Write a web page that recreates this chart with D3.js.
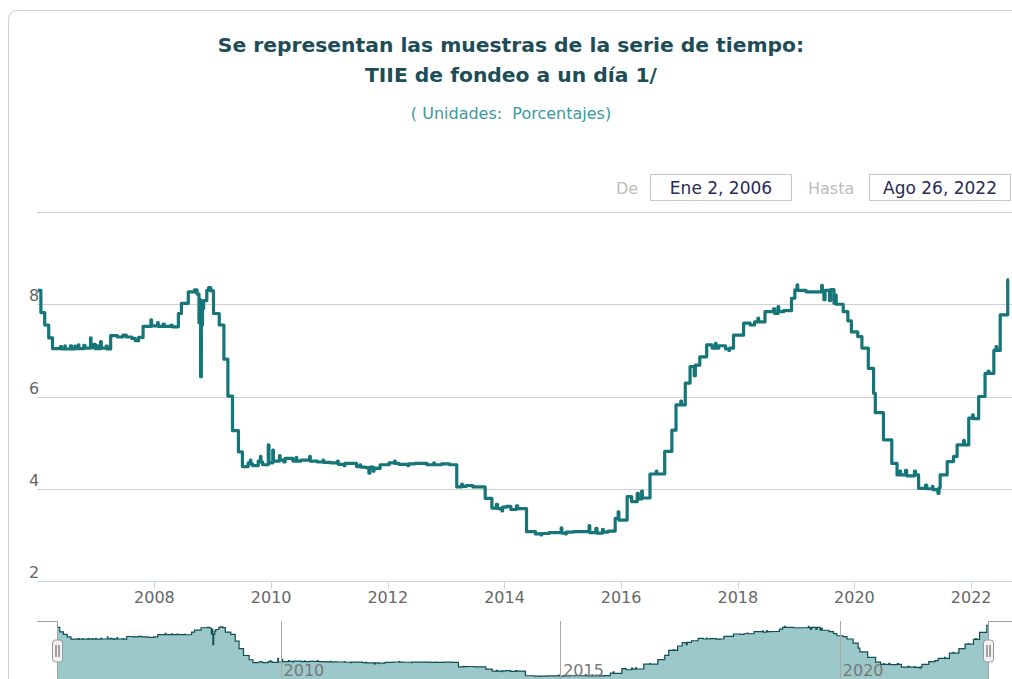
<!DOCTYPE html>
<html>
<head>
<meta charset="utf-8">
<script src="https://cdn.jsdelivr.net/npm/d3@7"></script>
<style>
  body { margin: 0; background: #fff; }
  text { font-family: "DejaVu Sans", Verdana, sans-serif; }
</style>
</head>
<body>
<svg id="chart" width="1012" height="679"></svg>
<script>
// TIIE de fondeo a un día, step points
const fechas = [
  "2006-01-02","2006-01-20","2006-02-13","2006-03-10","2006-04-03","2006-05-22","2006-05-29","2006-07-24",
  "2006-07-31","2006-09-11","2006-09-15","2006-10-16","2006-10-23","2006-11-27","2006-11-30","2006-12-18",
  "2006-12-27","2007-01-29","2007-02-02","2007-03-05","2007-03-12","2007-04-02","2007-05-14","2007-06-18",
  "2007-07-09","2007-08-13","2007-09-03","2007-09-24","2007-10-22","2007-12-10","2007-12-14","2008-01-21",
  "2008-01-25","2008-02-25","2008-03-03","2008-04-14","2008-04-21","2008-05-30","2008-06-18","2008-07-31",
  "2008-09-08","2008-09-24","2008-10-06","2008-10-09","2008-10-16","2008-10-21","2008-10-28","2008-11-04",
  "2008-11-24","2008-12-05","2008-12-19","2009-01-05","2009-02-10","2009-03-11","2009-04-05","2009-05-04",
  "2009-06-10","2009-07-05","2009-08-10","2009-09-07","2009-10-12","2009-11-09","2009-12-14","2009-12-18",
  "2010-01-11","2010-01-15","2010-02-22","2010-02-26","2010-04-12","2010-05-17","2010-07-05","2010-08-30",
  "2010-09-03","2010-10-18","2011-01-10","2011-02-21","2011-02-25","2011-05-02","2011-06-20","2011-08-15",
  "2011-09-05","2011-09-12","2011-10-24","2011-11-14","2012-01-09","2012-03-12","2012-06-18","2012-09-03",
  "2012-12-03","2013-01-21","2013-03-08","2013-05-06","2013-06-17","2013-09-02","2013-10-14","2013-11-11",
  "2013-11-18","2014-01-13","2014-02-10","2014-03-17","2014-03-24","2014-05-19","2014-07-14","2014-10-06",
  "2014-12-22","2014-12-26","2015-03-09","2015-06-15","2015-06-19","2015-07-27","2015-08-03","2015-10-12",
  "2015-11-25","2015-12-14","2015-12-18","2016-02-08","2016-03-07","2016-04-11","2016-04-18","2016-06-30",
  "2016-09-30","2016-11-14","2016-12-10","2017-02-06","2017-03-08","2017-04-03","2017-04-10","2017-05-08",
  "2017-06-20","2017-07-24","2017-09-04","2017-10-16","2017-12-05","2018-02-06","2018-03-19","2018-04-16",
  "2018-06-20","2018-08-13","2018-08-20","2018-10-15","2018-12-03","2018-12-24","2019-01-07","2019-01-11",
  "2019-03-04","2019-06-10","2019-06-14","2019-06-24","2019-07-01","2019-07-29","2019-08-05","2019-08-26",
  "2019-09-02","2019-09-09","2019-10-23","2019-11-21","2019-12-13","2020-01-22","2020-02-17","2020-03-28",
  "2020-04-30","2020-05-11","2020-07-01","2020-08-22","2020-09-24","2020-11-16","2020-11-23","2021-01-11",
  "2021-01-18","2021-02-06","2021-03-22","2021-03-29","2021-06-07","2021-06-14","2021-06-21","2021-08-04",
  "2021-09-13","2021-10-05","2021-12-17","2022-02-17","2022-03-29","2022-05-23","2022-07-02","2022-08-18",
  "2022-08-26"
]
const tasas = [
  8.30, 7.82, 7.55, 7.27, 7.04, 7.08, 7.03, 7.10,
  7.03, 7.12, 7.04, 7.11, 7.05, 7.27, 7.06, 7.13,
  7.04, 7.19, 7.05, 7.09, 7.03, 7.32, 7.29, 7.33,
  7.29, 7.26, 7.21, 7.28, 7.52, 7.66, 7.53, 7.60,
  7.52, 7.57, 7.52, 7.55, 7.51, 7.80, 8.02, 8.27,
  8.31, 8.22, 7.60, 8.10, 6.43, 7.55, 7.90, 8.08,
  8.30, 8.36, 8.29, 7.80, 7.55, 6.81, 6.01, 5.26,
  4.80, 4.48, 4.56, 4.50, 4.60, 4.52, 4.95, 4.56,
  4.84, 4.60, 4.72, 4.62, 4.66, 4.60, 4.62, 4.70,
  4.60, 4.58, 4.56, 4.60, 4.53, 4.55, 4.48, 4.46,
  4.34, 4.47, 4.44, 4.52, 4.56, 4.53, 4.55, 4.52,
  4.54, 4.52, 4.04, 4.07, 4.04, 3.79, 3.58, 3.66,
  3.57, 3.62, 3.55, 3.63, 3.57, 3.07, 3.02, 3.05,
  3.15, 3.04, 3.07, 3.20, 3.05, 3.14, 3.04, 3.08,
  3.36, 3.50, 3.32, 3.83, 3.72, 3.90, 3.78, 4.32,
  4.81, 5.27, 5.82, 6.29, 6.65, 6.45, 6.68, 6.86,
  7.12, 7.05, 7.10, 7.03, 7.33, 7.59, 7.55, 7.62,
  7.84, 7.90, 7.80, 7.86, 8.13, 8.31, 8.42, 8.30,
  8.27, 8.41, 8.29, 8.10, 8.30, 8.08, 8.32, 8.02,
  8.20, 8.00, 7.84, 7.64, 7.40, 7.30, 7.05, 6.61,
  6.07, 5.65, 5.06, 4.55, 4.30, 4.40, 4.28, 4.38,
  4.30, 4.01, 4.08, 4.00, 3.90, 4.02, 4.30, 4.59,
  4.70, 4.95, 5.53, 6.00, 6.50, 7.00, 7.77, 8.53,
  8.53
]
// short-lived spikes seen along the plateaus (spike, then back)
const picosFechas = [
  "2006-06-19","2006-06-22","2006-08-21","2006-08-24","2007-01-08","2007-01-11",
  "2009-08-24","2009-08-27","2009-10-26","2009-10-29","2010-03-22","2010-03-29",
  "2010-06-07","2010-06-10","2010-11-22","2010-11-26","2011-04-04","2011-04-08",
  "2011-07-11","2011-07-15","2011-10-03","2011-10-07","2012-02-13","2012-02-17",
  "2012-05-07","2012-05-11","2012-10-15","2012-10-19","2013-04-08","2013-04-12",
  "2013-12-16","2013-12-20","2014-08-18","2014-08-22","2015-01-19","2015-01-23",
  "2015-09-07","2015-09-11","2016-05-09","2016-05-13","2016-08-08","2016-08-12",
  "2017-01-09","2017-01-13","2017-08-14","2017-08-18","2017-11-06","2017-11-10",
  "2018-05-07","2018-05-11","2018-09-10","2018-09-14","2020-10-12","2020-10-16",
  "2021-05-03","2021-05-07","2021-11-15","2021-11-19","2022-01-10","2022-01-14",
  "2022-04-18","2022-04-22","2022-06-06","2022-06-10"
]
const picosTasas = [
  7.10, 7.03, 7.09, 7.04, 7.10, 7.04,
  4.62, 4.54, 4.70, 4.58, 4.58, 4.66,
  4.68, 4.60, 4.62, 4.57, 4.50, 4.55,
  4.52, 4.47, 4.38, 4.45, 4.60, 4.55,
  4.50, 4.54, 4.56, 4.52, 4.10, 4.05,
  3.52, 3.60, 3.00, 3.03, 3.02, 3.06,
  3.12, 3.06, 3.95, 3.80, 4.38, 4.32,
  5.90, 5.82, 7.15, 7.05, 7.00, 7.05,
  7.70, 7.62, 7.95, 7.84, 4.38, 4.30,
  4.05, 3.98, 5.05, 4.95, 5.60, 5.52,
  6.55, 6.50, 7.08, 7.00
]

const yTicks = [2, 4, 6, 8]
const yGrid = [4, 6, 8, 10]
const xTickYears = [2008, 2010, 2012, 2014, 2016, 2018, 2020, 2022]
const navTickYears = [2010, 2015, 2020]
const fechaDesde = "Ene 2, 2006"
const fechaHasta = "Ago 26, 2022"

const parse = d3.timeParse("%Y-%m-%d")
const data = fechas.map((f, i) => ({ date: parse(f), value: tasas[i] }))
  .concat(picosFechas.map((f, i) => ({ date: parse(f), value: picosTasas[i] })))
  .sort((a, b) => a.date - b.date)

const svg = d3.select("#chart")

// card border
svg.append("path")
  .attr("d", "M8.5,1000 L8.5,20 Q8.5,10.5 18,10.5 L1100,10.5")
  .attr("fill", "none")
  .attr("stroke", "#cfcfcf")

// titles
svg.append("text").attr("x", 511).attr("y", 52).attr("text-anchor", "middle")
  .attr("font-size", 20.3).attr("font-weight", "bold").attr("fill", "#1e4d56")
  .text("Se representan las muestras de la serie de tiempo:")
svg.append("text").attr("x", 511).attr("y", 82).attr("text-anchor", "middle")
  .attr("font-size", 20.3).attr("font-weight", "bold").attr("fill", "#1e4d56")
  .text("TIIE de fondeo a un día 1/")
svg.append("text").attr("x", 511).attr("y", 119).attr("text-anchor", "middle")
  .attr("font-size", 16).attr("fill", "#3a9a9c").style("white-space", "pre")
  .text("( Unidades:  Porcentajes)")

// range inputs
svg.append("text").attr("x", 616).attr("y", 194).attr("font-size", 16).attr("fill", "#bdbdbd").text("De")
svg.append("rect").attr("x", 650.5).attr("y", 174.5).attr("width", 141).attr("height", 26)
  .attr("fill", "#fff").attr("stroke", "#c8c8c8")
svg.append("text").attr("x", 721).attr("y", 194).attr("text-anchor", "middle")
  .attr("font-size", 17).attr("fill", "#2a2a55").text(fechaDesde)
svg.append("text").attr("x", 808).attr("y", 194).attr("font-size", 16).attr("fill", "#bdbdbd").text("Hasta")
svg.append("rect").attr("x", 869.5).attr("y", 174.5).attr("width", 141).attr("height", 26)
  .attr("fill", "#fff").attr("stroke", "#c8c8c8")
svg.append("text").attr("x", 940).attr("y", 194).attr("text-anchor", "middle")
  .attr("font-size", 17).attr("fill", "#2a2a55").text(fechaHasta)

// main plot
const x = d3.scaleTime()
  .domain([data[0].date, data[data.length - 1].date])
  .range([38, 1009])
const y = d3.scaleLinear().domain([2, 10]).range([581, 212])

const g = svg.append("g")

g.selectAll("line.grid").data(yGrid).enter().append("line")
  .attr("class", "grid")
  .attr("x1", 37).attr("x2", 1012)
  .attr("y1", d => Math.round(y(d)) + 0.5).attr("y2", d => Math.round(y(d)) + 0.5)
  .attr("stroke", "#d0d0d0")

g.selectAll("text.ylab").data(yTicks).enter().append("text")
  .attr("class", "ylab")
  .attr("x", 29).attr("y", d => y(d) - 3)
  .attr("font-size", 16).attr("fill", "#666")
  .text(d => d)

// x axis
const xAxisG = g.append("g").attr("transform", "translate(0,581)")
xAxisG.append("line").attr("x1", 37).attr("x2", 1012).attr("y1", 0.5).attr("y2", 0.5)
  .attr("stroke", "#ccd6eb")
const xTicks = xTickYears.map(yr => new Date(yr, 0, 1))
xAxisG.selectAll("line.tick").data(xTicks).enter().append("line")
  .attr("class", "tick")
  .attr("x1", d => Math.round(x(d)) + 0.5).attr("x2", d => Math.round(x(d)) + 0.5)
  .attr("y1", 0).attr("y2", 8)
  .attr("stroke", "#ccd6eb")
xAxisG.selectAll("text").data(xTicks).enter().append("text")
  .attr("x", d => x(d)).attr("y", 21.5)
  .attr("text-anchor", "middle")
  .attr("font-size", 16).attr("fill", "#666")
  .text(d3.timeFormat("%Y"))

const line = d3.line()
  .x(d => x(d.date))
  .y(d => y(d.value))
  .curve(d3.curveStepAfter)

g.append("path").datum(data)
  .attr("d", line)
  .attr("fill", "none")
  .attr("stroke", "#167579")
  .attr("stroke-width", 3.2)
  .attr("stroke-linejoin", "round")

// navigator
const nx = d3.scaleTime()
  .domain([data[0].date, data[data.length - 1].date])
  .range([57, 988])
const ny = d3.scaleLinear().domain([2.5, 9.0]).range([681, 621])

const nav = svg.append("g")
const area = d3.area()
  .x(d => nx(d.date))
  .y0(690)
  .y1(d => ny(d.value))
  .curve(d3.curveStepAfter)
nav.append("path").datum(data)
  .attr("d", area)
  .attr("fill", "#9cc8c9")
nav.append("path").datum(data)
  .attr("d", line.x(d => nx(d.date)).y(d => ny(d.value)))
  .attr("fill", "none")
  .attr("stroke", "#0e4e54")
  .attr("stroke-width", 1.2)

const navTicks = navTickYears.map(yr => new Date(yr, 0, 1))
nav.selectAll("line.ngrid").data(navTicks).enter().append("line")
  .attr("class", "ngrid")
  .attr("x1", d => Math.round(nx(d)) + 0.5).attr("x2", d => Math.round(nx(d)) + 0.5)
  .attr("y1", 621).attr("y2", 690)
  .attr("stroke", "#a8a8a8")
nav.selectAll("text.nlab").data(navTicks).enter().append("text")
  .attr("class", "nlab")
  .attr("x", d => nx(d) + 3).attr("y", 676)
  .attr("font-size", 16).attr("fill", "#777")
  .text(d3.timeFormat("%Y"))

// navigator outline
const x0 = nx.range()[0] + 0.5, x1 = nx.range()[1] + 0.5
nav.append("path")
  .attr("d", `M37,621.5 L${x0},621.5 L${x0},690 M${x1},690 L${x1},621.5 L1012,621.5`)
  .attr("fill", "none").attr("stroke", "#a0a0a0")

// handles
const handles = nav.selectAll("g.handle").data([x0, x1]).enter().append("g")
  .attr("class", "handle")
  .attr("transform", d => `translate(${d},640)`)
handles.append("rect")
  .attr("x", -5).attr("y", 0).attr("width", 10).attr("height", 22).attr("rx", 3)
  .attr("fill", "#f2f2f2").attr("stroke", "#999")
handles.selectAll("line").data([-1.5, 1.5]).enter().append("line")
  .attr("x1", d => d).attr("x2", d => d).attr("y1", 5).attr("y2", 17)
  .attr("stroke", "#555")
</script>
</body>
</html>
